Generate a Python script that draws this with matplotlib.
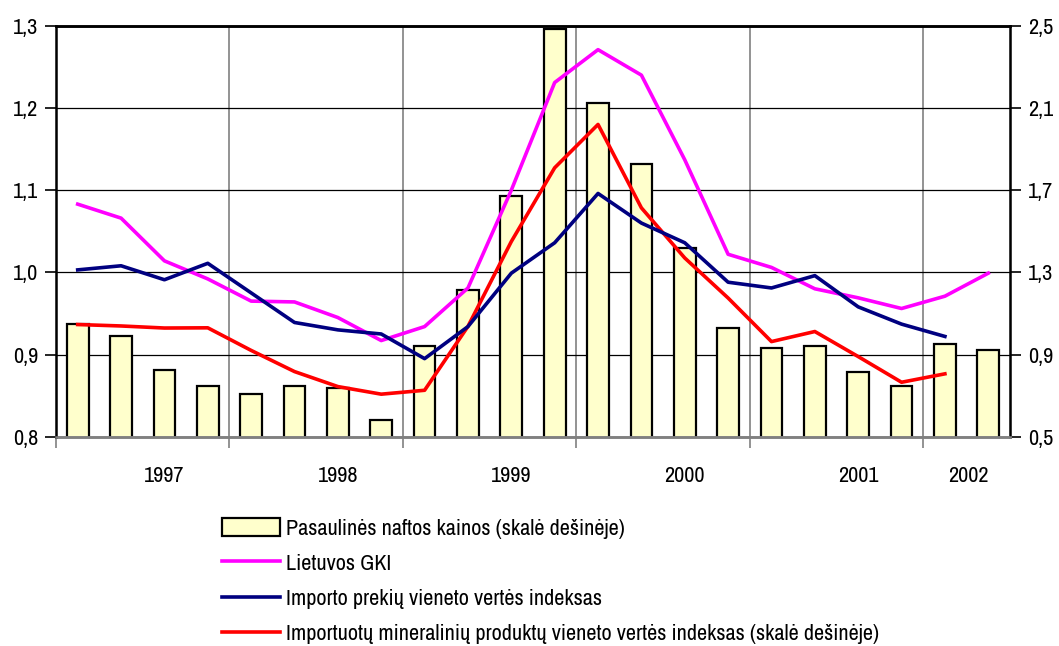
import matplotlib
matplotlib.use("Agg")
import matplotlib.pyplot as plt
from matplotlib.ticker import FixedLocator, FuncFormatter
import numpy as np

# data (quarters 1997 Q1 .. 2002 Q2)
# ----------
oil_prices = [1.048, 0.991, 0.824, 0.747, 0.708, 0.747, 0.738, 0.580, 0.941, 1.214, 1.674,
              2.484, 2.123, 1.829, 1.419, 1.029, 0.931, 0.941, 0.814, 0.746, 0.952, 0.923]
lt_cpi = [1.083, 1.066, 1.014, 0.992, 0.965, 0.964, 0.945, 0.917, 0.934, 0.981, 1.100,
          1.231, 1.271, 1.240, 1.137, 1.022, 1.006, 0.980, 0.969, 0.956, 0.971, 0.999]
import_uvi = [1.003, 1.008, 0.991, 1.011, 0.975, 0.939, 0.930, 0.925, 0.895, 0.934, 0.999,
              1.036, 1.096, 1.060, 1.036, 0.988, 0.981, 0.996, 0.958, 0.937, 0.922, np.nan]
mineral_uvi = [1.046, 1.039, 1.029, 1.030, 0.920, 0.817, 0.744, 0.707, 0.726, 1.037, 1.450,
               1.809, 2.020, 1.614, 1.370, 1.175, 0.963, 1.012, 0.890, 0.765, 0.806, np.nan]

year_labels = ["1997", "1998", "1999", "2000", "2001", "2002"]
year_label_pos = [2.0, 6.0, 10.0, 14.0, 18.0, 20.55]

labels = ["Pasaulinės naftos kainos (skalė dešinėje)",
          "Lietuvos GKI",
          "Importo prekių vieneto vertės indeksas",
          "Importuotų mineralinių produktų vieneto vertės indeksas (skalė dešinėje)"]

# plot settings
# ----------
plt.rcParams["font.family"] = ["Archivo Narrow", "Liberation Sans", "DejaVu Sans"]
plt.rcParams["font.size"] = 16

x = np.arange(len(oil_prices))
comma = FuncFormatter(lambda v, p: f"{v:.1f}".replace(".", ","))

fig = plt.figure(figsize=(10.59, 6.46), dpi=100)
ax = fig.add_axes([0.0529, 0.324, 0.9008, 0.636])
ax2 = ax.twinx()

# bars + grid live on the right axis, lines of left scale go on top
ax.set_zorder(ax2.get_zorder() + 1)
ax.patch.set_visible(False)

bars = ax2.bar(x, oil_prices, width=0.5, color="#FFFFCC", edgecolor="black", linewidth=1.6,
               label=labels[0], zorder=2)
l_red, = ax2.plot(x, mineral_uvi, color="#FF0000", lw=2.6, label=labels[3], zorder=3)
l_mag, = ax.plot(x, lt_cpi, color="#FF00FF", lw=2.6, label=labels[1], zorder=3)
l_nav, = ax.plot(x, import_uvi, color="#000080", lw=2.6, label=labels[2], zorder=3)

ax.set_xlim(-0.5, len(x) - 0.5)
ax.set_ylim(0.8, 1.3)
ax2.set_ylim(0.5, 2.5)

ax.yaxis.set_major_locator(FixedLocator(np.arange(0.8, 1.31, 0.1)))
ax.yaxis.set_major_formatter(comma)
ax2.yaxis.set_major_locator(FixedLocator(np.arange(0.5, 2.51, 0.4)))
ax2.yaxis.set_major_formatter(comma)
ax2.yaxis.grid(True, color="black", lw=0.9, zorder=0)
ax2.set_axisbelow(True)

# year separators
for b in np.arange(3.5, len(x) - 1, 4):
    ax2.axvline(b, color="#808080", lw=1.2, zorder=0)

ax.set_xticks(year_label_pos)
ax.set_xticklabels(year_labels)
ax.tick_params(axis="x", which="major", length=0, pad=21)
ax.set_xticks(np.arange(-0.5, len(x) - 1, 4), minor=True)
ax.tick_params(axis="x", which="minor", length=8, color="#808080", width=1.2)

ax.tick_params(axis="y", length=8, width=1.2, pad=5)
ax2.tick_params(axis="y", length=8, width=1.2, pad=5)

for s in ["left", "top"]:
    ax.spines[s].set_linewidth(1.8)
ax.spines["bottom"].set_color("#808080")
ax.spines["bottom"].set_linewidth(1.8)
ax2.spines["right"].set_linewidth(1.8)
ax2.spines["top"].set_linewidth(1.8)
ax2.spines["bottom"].set_color("#808080")
ax2.spines["bottom"].set_linewidth(1.8)

leg = fig.legend(handles=[bars, l_mag, l_nav, l_red], labels=labels,
                 loc="upper left", bbox_to_anchor=(0.201, 0.212), frameon=False,
                 handlelength=2.6, handleheight=0.9, handletextpad=0.3,
                 labelspacing=0.64, fontsize=16, borderaxespad=0)

fig.savefig("out.png", dpi=100)
